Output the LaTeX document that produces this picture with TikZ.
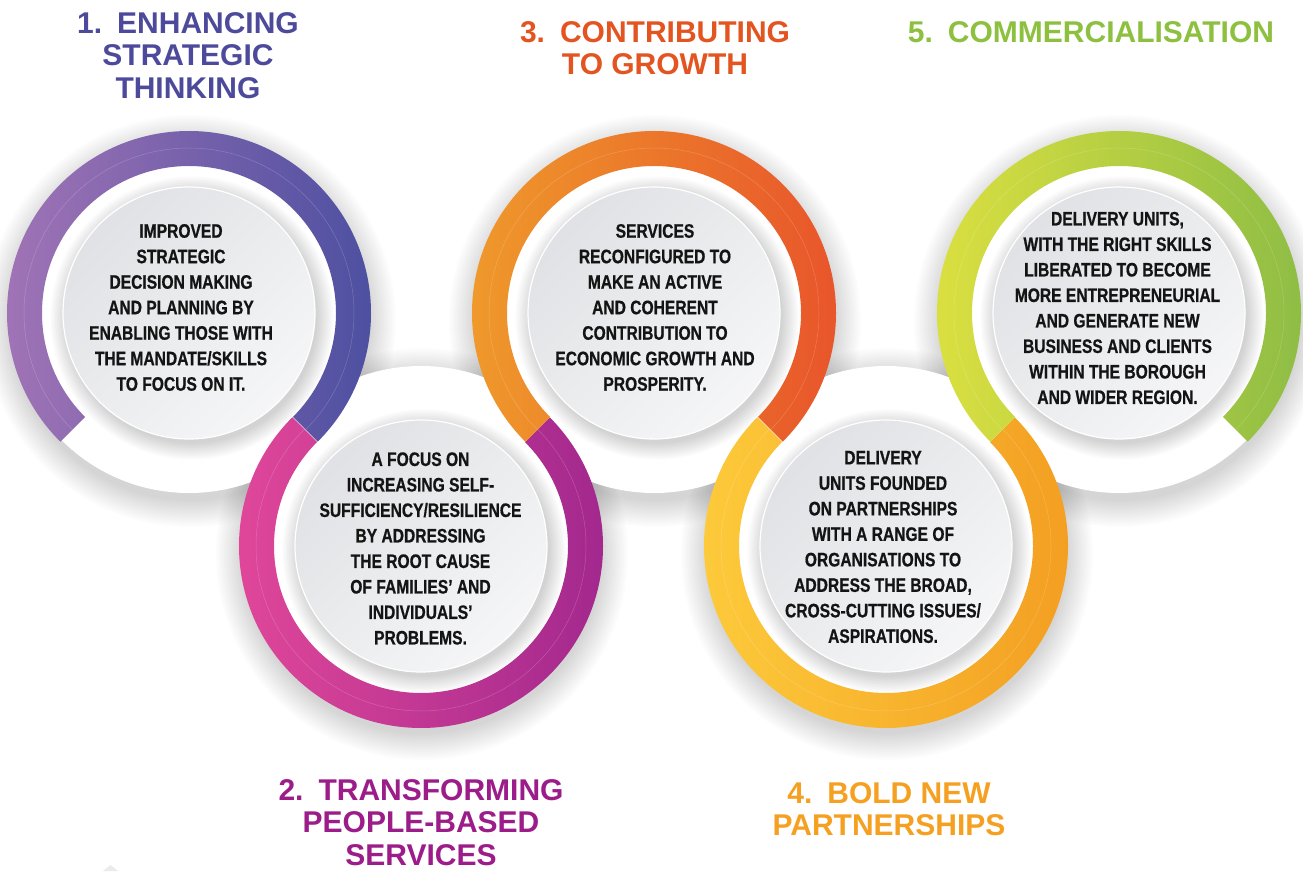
\documentclass[tikz,border=0pt]{standalone}
\usepackage{fontspec}
\setmainfont{Liberation Sans}
\newfontfamily\condfont[FakeStretch=0.8, FakeBold=0.7]{Liberation Sans}
\usetikzlibrary{calc,shadings}
\definecolor{oneL}{HTML}{A475B7}
\definecolor{oneR}{HTML}{4A4EA0}
\definecolor{twoL}{HTML}{E2489A}
\definecolor{twoR}{HTML}{A0278D}
\definecolor{thrL}{HTML}{EF9C2B}
\definecolor{thrR}{HTML}{E8522B}
\definecolor{fouL}{HTML}{FDCC3C}
\definecolor{fouR}{HTML}{F39D21}
\definecolor{fivL}{HTML}{DEE140}
\definecolor{fivR}{HTML}{8BBC45}
\definecolor{tOne}{HTML}{4D4A9C}
\definecolor{tTwo}{HTML}{9C1C8A}
\definecolor{tThr}{HTML}{E35420}
\definecolor{tFou}{HTML}{F5A021}
\definecolor{tFiv}{HTML}{8DC03F}
\definecolor{discA}{HTML}{DCDDE1}
\definecolor{discB}{HTML}{EBECEE}
\definecolor{discC}{HTML}{FAFAFB}
\tikzset{
  bodytext/.style={align=center, inner sep=0pt, text=black!92,
    font=\condfont\bfseries\fontsize{19.5}{25.5}\selectfont},
  titletext/.style={align=center, inner sep=0pt,
    font=\bfseries\fontsize{30}{32.5}\selectfont},
  innerdisc/.style={circle, minimum size=252pt, inner sep=0pt,
    upper left=discA, upper right=discB, lower left=discB, lower right=discC,
    draw=white, line width=1.2pt},
  faint/.style={white, opacity=0.2, line width=0.5pt}
}
\newcommand\ringseg[5]{%
  \shade[left color=#4, right color=#5]
    ($(#1)+(#2:182)$) arc[start angle=#2, end angle=#3, radius=182]
    -- ($(#1)+(#3:147)$) arc[start angle=#3, end angle=#2, radius=147] -- cycle;
  \draw[faint] ($(#1)+(#2:165)$) arc[start angle=#2, end angle=#3, radius=165];
}
\newcommand\discshadow[1]{%
  \foreach \k in {1,...,14}{\fill[black, opacity=0.011] ($(#1)+(1,-8)$) circle[radius=178+2*\k];}
}
\newcommand\innershadow[1]{%
  \foreach \k in {1,...,11}{\fill[black, opacity=0.016] ($(#1)+(3,-5)$) circle[radius=124+1.6*\k];}
}
\begin{document}
\begin{tikzpicture}[x=1pt, y=1pt]
\useasboundingbox (0,0) rectangle (1303,871);
\fill[white] (0,0) rectangle (1303,871);
\coordinate (C1) at (189,558);
\coordinate (C2) at (421,325);
\coordinate (C3) at (654,558);
\coordinate (C4) at (886,325);
\coordinate (C5) at (1119,558);
% small mark at the bottom edge
\fill[black!8] (103,0) -- (110.5,6) -- (118,0) -- cycle;
% outer white discs with soft shadows
\discshadow{C1}\discshadow{C2}\discshadow{C3}\discshadow{C4}\discshadow{C5}
\foreach \c in {C1,C2,C3,C4,C5}{\fill[white] (\c) circle[radius=180];}
% the continuous band
\ringseg{C1}{225}{-45}{oneL}{oneR}
\ringseg{C2}{135}{405}{twoL}{twoR}
\ringseg{C3}{225}{-45}{thrL}{thrR}
\ringseg{C4}{135}{405}{fouL}{fouR}
\ringseg{C5}{225}{-45}{fivL}{fivR}
% inner discs
\innershadow{C1}\innershadow{C2}\innershadow{C3}\innershadow{C4}\innershadow{C5}
\node[innerdisc] (d1) at (C1) {};
\node[innerdisc] (d2) at (C2) {};
\node[innerdisc] (d3) at (C3) {};
\node[innerdisc] (d4) at (C4) {};
\node[innerdisc] (d5) at (C5) {};
% body texts
\node[bodytext] (b1) at (181,563.5) {IMPROVED\\STRATEGIC\\DECISION MAKING\\AND PLANNING BY\\ENABLING THOSE WITH\\THE MANDATE/SKILLS\\TO FOCUS ON IT.};
\node[bodytext] (b2) at (420.5,322.5) {A FOCUS ON\\INCREASING SELF-\\SUFFICIENCY/RESILIENCE\\BY ADDRESSING\\THE ROOT CAUSE\\OF FAMILIES’ AND\\INDIVIDUALS’\\PROBLEMS.};
\node[bodytext] (b3) at (655,563.5) {SERVICES\\RECONFIGURED TO\\MAKE AN ACTIVE\\AND COHERENT\\CONTRIBUTION TO\\ECONOMIC GROWTH AND\\PROSPERITY.};
\node[bodytext] (b4) at (883,324) {DELIVERY\\UNITS FOUNDED\\ON PARTNERSHIPS\\WITH A RANGE OF\\ORGANISATIONS TO\\ADDRESS THE BROAD,\\CROSS-CUTTING ISSUES/\\ASPIRATIONS.};
\node[bodytext] (b5) at (1117.5,563) {DELIVERY UNITS,\\WITH THE RIGHT SKILLS\\LIBERATED TO BECOME\\MORE ENTREPRENEURIAL\\AND GENERATE NEW\\BUSINESS AND CLIENTS\\WITHIN THE BOROUGH\\AND WIDER REGION.};
% titles
\node[titletext, text=tOne] (h1) at (188,815.5) {1.\hspace{0.5em}ENHANCING\\STRATEGIC\\THINKING};
\node[titletext, text=tTwo] (h2) at (421,48.5) {2.\hspace{0.5em}TRANSFORMING\\PEOPLE-BASED\\SERVICES};
\node[titletext, text=tThr] (h3) at (655,823) {3.\hspace{0.5em}CONTRIBUTING\\TO GROWTH};
\node[titletext, text=tFou] (h4) at (889,62) {4.\hspace{0.5em}BOLD NEW\\PARTNERSHIPS};
\node[titletext, text=tFiv] (h5) at (1091,839) {5.\hspace{0.5em}COMMERCIALISATION};
\end{tikzpicture}
\end{document}
